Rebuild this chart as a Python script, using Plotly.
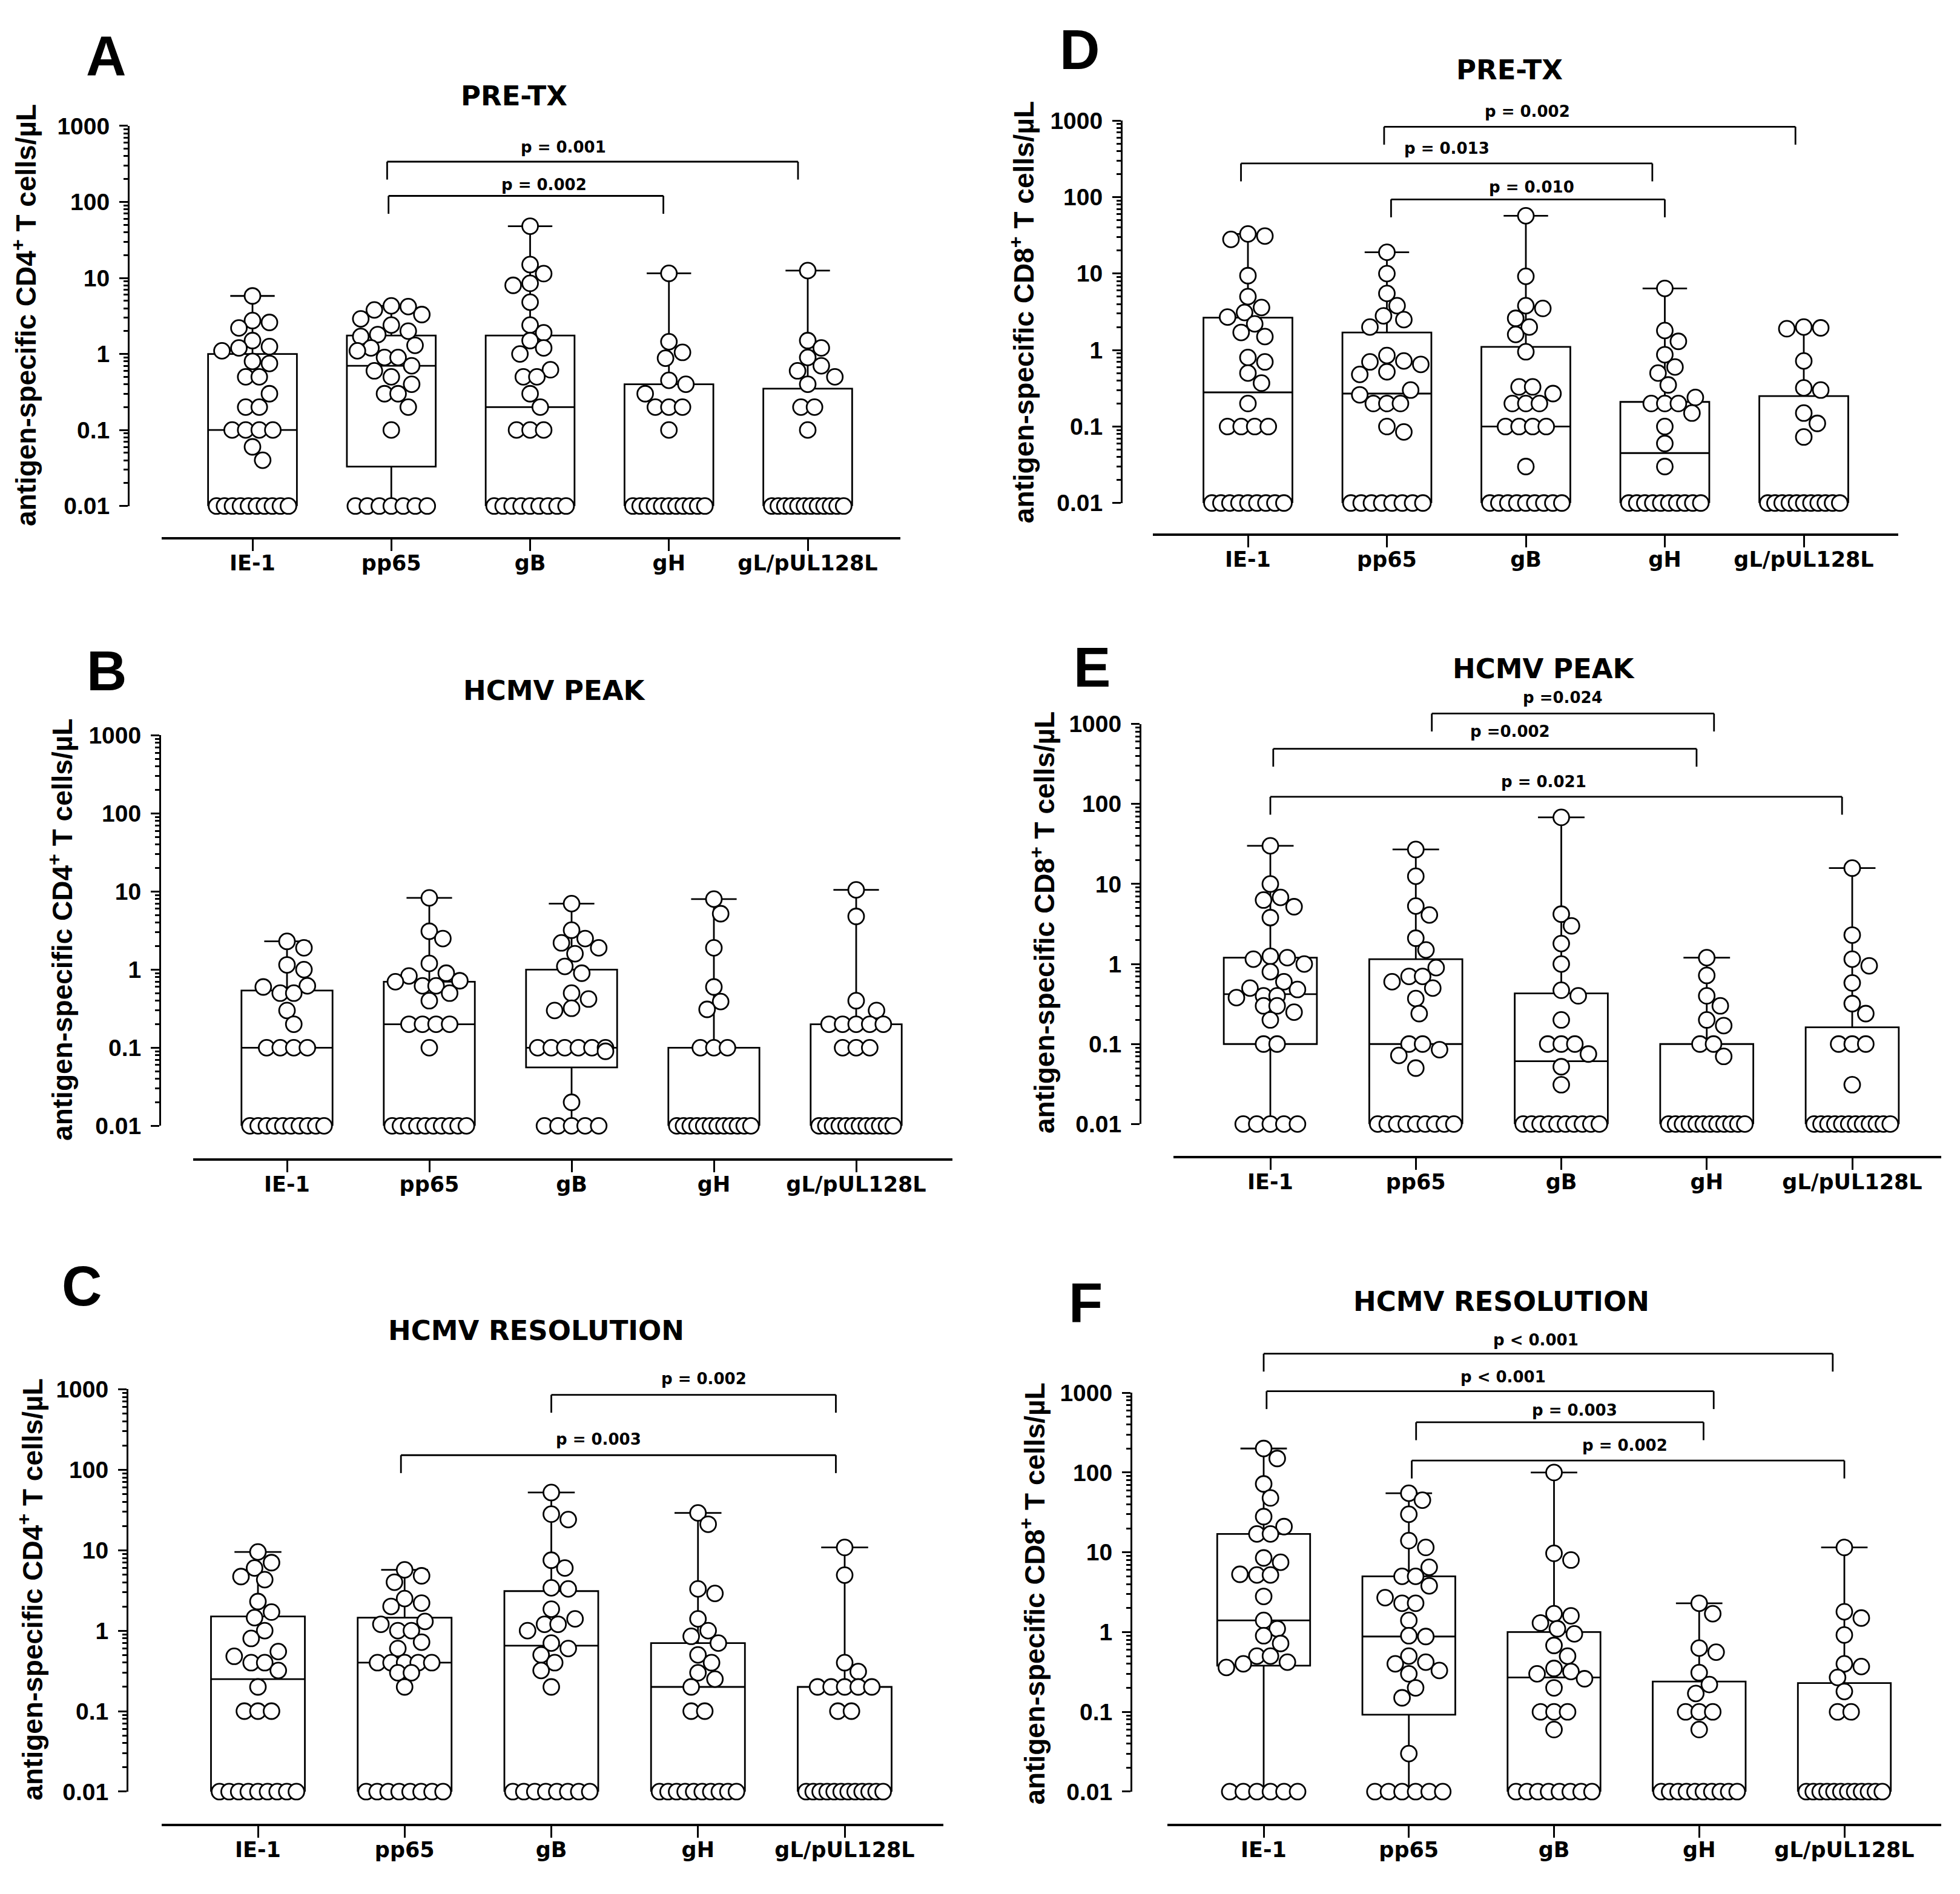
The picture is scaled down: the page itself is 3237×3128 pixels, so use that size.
import numpy as np
import plotly.graph_objects as go

categories = ["IE-1", "pp65", "gB", "gH", "gL/pUL128L"]
tick_vals = [0.01, 0.1, 1, 10, 100, 1000]
tick_text = ["0.01", "0.1", "1", "10", "100", "1000"]

# ---------------- A: CD4, PRE-TX ----------------
a_ie1 = [5.8, 2.75, 2.6, 2.2, 1.5, 1.25, 1.2, 1.1, 0.8, 0.75, 0.5, 0.5, 0.3, 0.2, 0.2,
         0.1, 0.1, 0.1, 0.1, 0.06, 0.04,
         0.01, 0.01, 0.01, 0.01, 0.01, 0.01, 0.01, 0.01, 0.01, 0.01]
a_pp65 = [4.3, 4.2, 3.8, 3.3, 2.9, 2.4, 2.0, 1.8, 1.7, 1.3, 1.2, 1.1, 0.9, 0.9, 0.7, 0.6,
          0.5, 0.4, 0.3, 0.3, 0.2, 0.1,
          0.01, 0.01, 0.01, 0.01, 0.01, 0.01, 0.01]
a_gb = [48, 15, 11.4, 8.5, 8.0, 4.8, 2.4, 1.9, 1.5, 1.2, 1.0, 0.62, 0.5, 0.5, 0.3, 0.2,
        0.1, 0.1, 0.1,
        0.01, 0.01, 0.01, 0.01, 0.01, 0.01, 0.01, 0.01, 0.01]
a_gh = [11.5, 1.45, 1.05, 0.88, 0.45, 0.4, 0.3, 0.2, 0.2, 0.2, 0.1,
        0.01, 0.01, 0.01, 0.01, 0.01, 0.01, 0.01, 0.01, 0.01, 0.01, 0.01]
a_gl = [12.5, 1.5, 1.2, 0.9, 0.7, 0.6, 0.5, 0.4, 0.2, 0.2, 0.1,
        0.01, 0.01, 0.01, 0.01, 0.01, 0.01, 0.01, 0.01, 0.01, 0.01, 0.01, 0.01]
a_q1 = [0.01, 0.033, 0.01, 0.01, 0.01]
a_med = [0.1, 0.7, 0.2, 0.01, 0.01]
a_q3 = [1.0, 1.75, 1.75, 0.4, 0.35]

# ---------------- B: CD4, HCMV PEAK ----------------
b_ie1 = [2.3, 1.9, 1.15, 1.0, 0.62, 0.6, 0.5, 0.5, 0.3, 0.2, 0.1, 0.1, 0.1, 0.1,
         0.01, 0.01, 0.01, 0.01, 0.01, 0.01, 0.01, 0.01, 0.01, 0.01]
b_pp65 = [8.3, 3.1, 2.5, 1.2, 0.9, 0.83, 0.72, 0.7, 0.62, 0.62, 0.5, 0.4, 0.2, 0.2, 0.2,
          0.2, 0.1,
          0.01, 0.01, 0.01, 0.01, 0.01, 0.01, 0.01, 0.01, 0.01, 0.01]
b_gb = [7.0, 3.2, 2.5, 2.2, 1.9, 1.6, 1.1, 0.9, 0.5, 0.42, 0.32, 0.3, 0.1, 0.1, 0.1, 0.1,
        0.1, 0.1, 0.09, 0.02,
        0.01, 0.01, 0.01, 0.01, 0.01]
b_gh = [8.0, 5.2, 1.9, 0.6, 0.39, 0.31, 0.1, 0.1, 0.1,
        0.01, 0.01, 0.01, 0.01, 0.01, 0.01, 0.01, 0.01, 0.01, 0.01, 0.01, 0.01]
b_gl = [10.5, 4.8, 0.4, 0.3, 0.2, 0.2, 0.2, 0.2, 0.2, 0.1, 0.1, 0.1,
        0.01, 0.01, 0.01, 0.01, 0.01, 0.01, 0.01, 0.01, 0.01, 0.01, 0.01, 0.01]
b_q1 = [0.01, 0.01, 0.056, 0.01, 0.01]
b_med = [0.1, 0.2, 0.1, 0.01, 0.01]
b_q3 = [0.54, 0.7, 1.0, 0.1, 0.2]

# ---------------- C: CD4, HCMV RESOLUTION ----------------
c_ie1 = [9.5, 7.0, 6.0, 4.7, 4.3, 2.3, 1.7, 1.45, 1.0, 0.8, 0.55, 0.48, 0.4, 0.4, 0.32,
         0.2, 0.1, 0.1, 0.1,
         0.01, 0.01, 0.01, 0.01, 0.01, 0.01, 0.01, 0.01, 0.01]
c_pp65 = [5.7, 4.8, 4.0, 2.5, 2.2, 2.0, 1.3, 1.2, 1.0, 1.0, 0.72, 0.6, 0.4, 0.4, 0.4,
          0.4, 0.4, 0.3, 0.3, 0.2,
          0.01, 0.01, 0.01, 0.01, 0.01, 0.01, 0.01, 0.01]
c_gb = [52, 28, 24, 7.5, 6.0, 3.4, 3.3, 1.85, 1.4, 1.2, 1.2, 1.0, 0.7, 0.6, 0.5, 0.4,
        0.32, 0.2,
        0.01, 0.01, 0.01, 0.01, 0.01, 0.01, 0.01, 0.01]
c_gh = [29, 21, 3.3, 2.9, 1.4, 1.0, 0.85, 0.7, 0.5, 0.4, 0.3, 0.25, 0.2, 0.1, 0.1,
        0.01, 0.01, 0.01, 0.01, 0.01, 0.01, 0.01, 0.01, 0.01, 0.01]
c_gl = [10.8, 4.9, 0.4, 0.31, 0.2, 0.2, 0.2, 0.2, 0.2, 0.1, 0.1,
        0.01, 0.01, 0.01, 0.01, 0.01, 0.01, 0.01, 0.01, 0.01, 0.01, 0.01, 0.01]
c_q1 = [0.01, 0.01, 0.01, 0.01, 0.01]
c_med = [0.25, 0.4, 0.65, 0.2, 0.01]
c_q3 = [1.5, 1.45, 3.1, 0.7, 0.2]

# ---------------- D: CD8, PRE-TX ----------------
d_ie1 = [33, 31, 28, 9.4, 5.0, 3.6, 3.1, 2.7, 2.2, 1.7, 1.5, 0.8, 0.7, 0.5, 0.37, 0.2,
         0.1, 0.1, 0.1, 0.1,
         0.01, 0.01, 0.01, 0.01, 0.01, 0.01, 0.01, 0.01, 0.01]
d_pp65 = [19, 10, 5.5, 3.8, 2.8, 2.5, 2.0, 0.85, 0.72, 0.7, 0.65, 0.52, 0.48, 0.3, 0.26,
          0.2, 0.2, 0.2, 0.1, 0.085,
          0.01, 0.01, 0.01, 0.01, 0.01, 0.01, 0.01, 0.01]
d_gb = [57, 9.2, 3.8, 3.5, 2.6, 2.0, 1.6, 0.95, 0.33, 0.33, 0.27, 0.2, 0.2, 0.2,
        0.1, 0.1, 0.1, 0.1, 0.03,
        0.01, 0.01, 0.01, 0.01, 0.01, 0.01, 0.01, 0.01, 0.01]
d_gh = [6.4, 1.8, 1.3, 0.87, 0.6, 0.5, 0.35, 0.24, 0.2, 0.2, 0.2, 0.15, 0.1, 0.06, 0.03,
        0.01, 0.01, 0.01, 0.01, 0.01, 0.01, 0.01, 0.01, 0.01, 0.01]
d_gl = [2.0, 1.95, 1.9, 0.72, 0.32, 0.3, 0.15, 0.11, 0.073,
        0.01, 0.01, 0.01, 0.01, 0.01, 0.01, 0.01, 0.01, 0.01, 0.01, 0.01]
d_q1 = [0.01, 0.01, 0.01, 0.01, 0.01]
d_med = [0.28, 0.27, 0.1, 0.045, 0.01]
d_q3 = [2.65, 1.7, 1.1, 0.21, 0.25]

# ---------------- E: CD8, HCMV PEAK ----------------
e_ie1 = [30, 10, 6.8, 6.3, 5.2, 3.8, 1.25, 1.2, 1.15, 1.0, 0.8, 0.6, 0.5, 0.48, 0.4, 0.4,
         0.38, 0.3, 0.3, 0.25, 0.2, 0.1, 0.1,
         0.01, 0.01, 0.01, 0.01, 0.01]
e_pp65 = [27, 12.5, 5.3, 4.1, 2.1, 1.5, 0.9, 0.7, 0.7, 0.6, 0.5, 0.37, 0.24, 0.1, 0.1,
          0.085, 0.072, 0.05,
          0.01, 0.01, 0.01, 0.01, 0.01, 0.01, 0.01, 0.01, 0.01]
e_gb = [68, 4.2, 3.0, 1.8, 1.0, 0.47, 0.4, 0.2, 0.1, 0.1, 0.1, 0.075, 0.052, 0.031,
        0.01, 0.01, 0.01, 0.01, 0.01, 0.01, 0.01, 0.01, 0.01, 0.01]
e_gh = [1.2, 0.72, 0.4, 0.3, 0.2, 0.17, 0.1, 0.1, 0.07,
        0.01, 0.01, 0.01, 0.01, 0.01, 0.01, 0.01, 0.01, 0.01, 0.01, 0.01, 0.01]
e_gl = [15.8, 2.3, 1.15, 0.95, 0.58, 0.32, 0.24, 0.1, 0.1, 0.1, 0.031,
        0.01, 0.01, 0.01, 0.01, 0.01, 0.01, 0.01, 0.01, 0.01, 0.01, 0.01, 0.01]
e_q1 = [0.1, 0.01, 0.01, 0.01, 0.01]
e_med = [0.42, 0.1, 0.061, 0.01, 0.01]
e_q3 = [1.2, 1.15, 0.43, 0.1, 0.162]

# ---------------- F: CD8, HCMV RESOLUTION ----------------
f_ie1 = [200, 150, 72, 48, 28, 21, 17, 17, 8.5, 7.5, 5.3, 5.2, 5.2, 2.8, 1.4, 1.1, 0.9,
         0.72, 0.5, 0.5, 0.42, 0.4, 0.36,
         0.01, 0.01, 0.01, 0.01, 0.01, 0.01]
f_pp65 = [55, 45, 30, 14, 11.5, 6.5, 5.0, 5.0, 3.8, 2.7, 2.3, 2.3, 1.4, 0.9, 0.88, 0.5,
          0.42, 0.4, 0.33, 0.3, 0.2, 0.15, 0.03,
          0.01, 0.01, 0.01, 0.01, 0.01, 0.01]
f_gb = [100, 9.7, 8.0, 1.7, 1.6, 1.3, 1.1, 0.95, 0.68, 0.5, 0.35, 0.32, 0.3, 0.26, 0.2,
        0.1, 0.1, 0.1, 0.06,
        0.01, 0.01, 0.01, 0.01, 0.01, 0.01, 0.01, 0.01]
f_gh = [2.3, 1.7, 0.63, 0.56, 0.31, 0.22, 0.17, 0.1, 0.1, 0.1, 0.06,
        0.01, 0.01, 0.01, 0.01, 0.01, 0.01, 0.01, 0.01, 0.01, 0.01]
f_gl = [11.5, 1.8, 1.5, 0.92, 0.4, 0.37, 0.27, 0.18, 0.1, 0.1,
        0.01, 0.01, 0.01, 0.01, 0.01, 0.01, 0.01, 0.01, 0.01, 0.01, 0.01, 0.01]
f_q1 = [0.38, 0.092, 0.01, 0.01, 0.01]
f_med = [1.4, 0.88, 0.27, 0.01, 0.01]
f_q3 = [17, 5.0, 1.0, 0.24, 0.23]

# significance brackets: (from, to, level log10, label, label x, label level log10)
a_brackets = [(0.97, 3.93, 2.53, "p = 0.001", 2.24, 2.72),
              (0.98, 2.96, 2.08, "p = 0.002", 2.10, 2.23)]
b_brackets = []
c_brackets = [(2.0, 3.94, 2.93, "p = 0.002", 3.04, 3.13),
              (0.975, 3.94, 2.18, "p = 0.003", 2.32, 2.38)]
d_brackets = [(0.98, 3.94, 2.92, "p = 0.002", 2.01, 3.12),
              (-0.05, 2.91, 2.44, "p = 0.013", 1.43, 2.64),
              (1.03, 3.0, 1.97, "p = 0.010", 2.04, 2.13)]
e_brackets = [(1.11, 3.05, 3.13, "p =0.024", 2.01, 3.33),
              (0.02, 2.93, 2.69, "p =0.002", 1.65, 2.91),
              (0.0, 3.93, 2.09, "p = 0.021", 1.88, 2.28)]
f_brackets = [(0.0, 3.92, 3.49, "p < 0.001", 1.875, 3.66),
              (0.02, 3.1, 3.02, "p < 0.001", 1.65, 3.2),
              (1.05, 3.03, 2.63, "p = 0.003", 2.14, 2.78),
              (1.02, 4.0, 2.15, "p = 0.002", 2.49, 2.34)]

panels = [
    dict(letter="A", title="PRE-TX", cell="CD4", groups=[a_ie1, a_pp65, a_gb, a_gh, a_gl],
         q1=a_q1, med=a_med, q3=a_q3, brackets=a_brackets,
         geo=dict(ax_x=212, y3=189.5, y0=826, ax_y=880, xl=267, xr=1487, c0=417, c4=1334,
                  title=(849, 139), letter=(175, 72), ytitle=(40, 507))),
    dict(letter="B", title="HCMV PEAK", cell="CD4", groups=[b_ie1, b_pp65, b_gb, b_gh, b_gl],
         q1=b_q1, med=b_med, q3=b_q3, brackets=b_brackets,
         geo=dict(ax_x=264, y3=1210, y0=1864, ax_y=1920, xl=319, xr=1573, c0=474, c4=1414,
                  title=(916, 1135), letter=(176, 1102), ytitle=(100, 1536))),
    dict(letter="C", title="HCMV RESOLUTION", cell="CD4", groups=[c_ie1, c_pp65, c_gb, c_gh, c_gl],
         q1=c_q1, med=c_med, q3=c_q3, brackets=c_brackets,
         geo=dict(ax_x=210, y3=2305, y0=2979, ax_y=3035, xl=267, xr=1558, c0=426, c4=1395,
                  title=(885, 2207), letter=(135, 2132), ytitle=(50, 2641))),
    dict(letter="D", title="PRE-TX", cell="CD8", groups=[d_ie1, d_pp65, d_gb, d_gh, d_gl],
         q1=d_q1, med=d_med, q3=d_q3, brackets=d_brackets,
         geo=dict(ax_x=1852, y3=180.6, y0=821, ax_y=874, xl=1904, xr=3135, c0=2061, c4=2979,
                  title=(2493, 96), letter=(1783, 62), ytitle=(1688, 502))),
    dict(letter="E", title="HCMV PEAK", cell="CD8", groups=[e_ie1, e_pp65, e_gb, e_gh, e_gl],
         q1=e_q1, med=e_med, q3=e_q3, brackets=e_brackets,
         geo=dict(ax_x=1883, y3=1191, y0=1861, ax_y=1916, xl=1938, xr=3206, c0=2098, c4=3059,
                  title=(2550, 1099), letter=(1804, 1096), ytitle=(1722, 1524))),
    dict(letter="F", title="HCMV RESOLUTION", cell="CD8", groups=[f_ie1, f_pp65, f_gb, f_gh, f_gl],
         q1=f_q1, med=f_med, q3=f_q3, brackets=f_brackets,
         geo=dict(ax_x=1868, y3=2311, y0=2979, ax_y=3035, xl=1928, xr=3206, c0=2087, c4=3046,
                  title=(2479, 2158), letter=(1793, 2160), ytitle=(1705, 2647))),
]

W, H, PAD = 3221, 3112, 8
DOT = 28.0
BOX_W = 0.64
ARIAL = "Liberation Sans, Arial, sans-serif"
WIDE = "DejaVu Sans, Verdana, sans-serif"


def px_x(p):
    return (p - PAD) / W


def px_y(p):
    return 1 - (p - PAD) / H


def swarm(vals, dec_px, half_w):
    """Beeswarm offsets (pixels) for one column of points on a log axis."""
    v = np.asarray(vals, float)
    y = np.log10(v) * dec_px
    x = np.zeros(len(v))
    placed = np.zeros(len(v), bool)
    uniq, inv, cnt = np.unique(v, return_inverse=True, return_counts=True)
    for k in range(len(uniq)):
        if cnt[k] > 1:
            idx = np.flatnonzero(inv == k)
            n = len(idx)
            step = min(DOT * 0.8, (2 * half_w - DOT) / (n - 1))
            x[idx] = (np.arange(n) - (n - 1) / 2) * step
            placed[idx] = True
    lim = half_w - DOT / 2
    for i in np.argsort(-v, kind="stable"):
        if placed[i]:
            continue
        ox, oy = x[placed], y[placed]
        best, best_cost = 0.0, None
        for m in range(30):
            for s in ((1, -1) if m else (1,)):
                c = s * m * DOT * 0.2
                if abs(c) > lim + 1e-9:
                    continue
                dist = np.sqrt((ox - c) ** 2 + (oy - y[i]) ** 2)
                cost = np.clip(DOT * 0.9 - dist, 0, None).sum()
                if best_cost is None or cost < best_cost - 1e-9:
                    best, best_cost = c, cost
            if best_cost == 0:
                break
        x[i] = best
        placed[i] = True
    return x


fig = go.Figure()
shapes, annotations = [], []
minor_vals = [k * 10.0 ** e for e in range(-2, 3) for k in range(2, 10)]

for n, p in enumerate(panels, start=1):
    g = p["geo"]
    sfx = "" if n == 1 else str(n)
    xref, yref = "x" + sfx, "y" + sfx
    sp = (g["c4"] - g["c0"]) / 4
    dec = (g["y0"] - g["y3"]) / 5
    xr0 = -(g["c0"] - g["xl"]) / sp
    xr1 = 4 + (g["xr"] - g["c4"]) / sp

    fig.add_trace(go.Box(
        x=list(range(5)), q1=p["q1"], median=p["med"], q3=p["q3"],
        lowerfence=[min(v) for v in p["groups"]], upperfence=[max(v) for v in p["groups"]],
        width=BOX_W, whiskerwidth=0.5, fillcolor="white",
        line=dict(color="black", width=2.8), boxpoints=False,
        xaxis=xref, yaxis=yref, showlegend=False, hoverinfo="skip"))

    xs, ys = [], []
    for i, vals in enumerate(p["groups"]):
        off = swarm(vals, dec, BOX_W * sp / 2)
        xs.extend(i + off / sp)
        ys.extend(vals)
    fig.add_trace(go.Scatter(
        x=xs, y=ys, mode="markers", cliponaxis=False,
        marker=dict(symbol="circle", size=26, color="white",
                    line=dict(color="black", width=2.8)),
        xaxis=xref, yaxis=yref, showlegend=False, hoverinfo="skip"))

    fig.layout["xaxis" + sfx] = dict(
        domain=[px_x(g["xl"]), px_x(g["xr"])], range=[xr0, xr1],
        anchor="free", position=px_y(g["ax_y"]),
        tickmode="array", tickvals=list(range(5)), ticktext=categories,
        ticks="outside", ticklen=19, tickwidth=3.3, tickcolor="black",
        showline=True, linewidth=4, linecolor="black",
        showgrid=False, zeroline=False, ticklabelstandoff=-10,
        tickfont=dict(family=WIDE, size=35, color="black", weight="bold"))
    fig.layout["yaxis" + sfx] = dict(
        type="log", range=[-2, 3],
        domain=[px_y(g["y0"]), px_y(g["y3"])],
        anchor="free", position=px_x(g["ax_x"]),
        tickmode="array", tickvals=tick_vals, ticktext=tick_text,
        ticks="outside", ticklen=14, tickwidth=2.8, tickcolor="black",
        minor=dict(tickmode="array", tickvals=minor_vals, ticks="outside",
                   ticklen=7, tickwidth=2.5, tickcolor="black", showgrid=False),
        showline=True, linewidth=3, linecolor="black",
        showgrid=False, zeroline=False, ticklabelstandoff=8,
        tickfont=dict(family=ARIAL, size=39, color="black", weight="bold"))

    # significance brackets
    drop = 30 / dec / 5
    for (a, b, lvl, lab, lx, ly) in p["brackets"]:
        yl = (lvl + 2) / 5
        for (x0, y0, x1, y1) in [(a, yl - drop, a, yl), (a, yl, b, yl), (b, yl, b, yl - drop)]:
            shapes.append(dict(type="line", xref=xref, yref=yref + " domain",
                               x0=x0, y0=y0, x1=x1, y1=y1,
                               line=dict(color="black", width=2.8)))
        annotations.append(dict(text=lab, x=lx, y=(ly + 2) / 5, xref=xref, yref=yref + " domain",
                                showarrow=False, xanchor="center", yanchor="middle",
                                font=dict(family=WIDE, size=26, color="black", weight="bold")))

    tx, ty = g["title"]
    annotations.append(dict(text=p["title"], x=px_x(tx), y=px_y(ty), xref="paper", yref="paper",
                            showarrow=False, xanchor="center", yanchor="middle",
                            font=dict(family=WIDE, size=45, color="black", weight="bold")))
    lx, ly = g["letter"]
    annotations.append(dict(text=p["letter"], x=px_x(lx), y=px_y(ly), xref="paper", yref="paper",
                            showarrow=False, xanchor="center", yanchor="middle",
                            font=dict(family=ARIAL, size=92, color="black", weight="bold")))
    yx, yy = g["ytitle"]
    annotations.append(dict(text="antigen-specific " + p["cell"] + "<sup>+</sup> T cells/\u00b5L",
                            x=px_x(yx), y=px_y(yy), xref="paper", yref="paper", textangle=-90,
                            showarrow=False, xanchor="center", yanchor="middle",
                            font=dict(family=ARIAL, size=46, color="black", weight="bold")))

fig.update_layout(
    width=W, height=H, autosize=False,
    margin=dict(l=0, r=0, t=0, b=0),
    paper_bgcolor="white", plot_bgcolor="white",
    shapes=shapes, annotations=annotations, showlegend=False)

fig.write_html("out.html")
